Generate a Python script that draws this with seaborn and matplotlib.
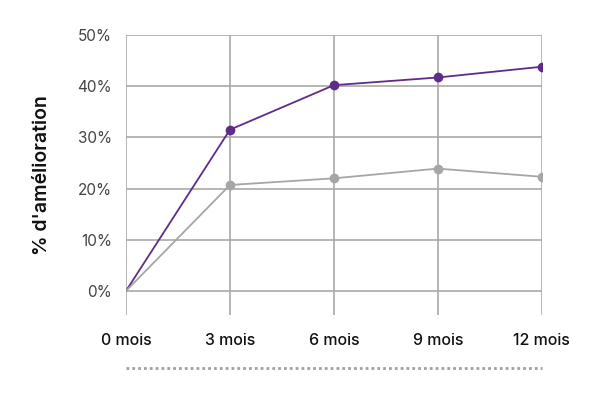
import pandas as pd
import seaborn as sns
import matplotlib.pyplot as plt
from matplotlib.lines import Line2D

# data
periodes = ["0 mois", "3 mois", "6 mois", "9 mois", "12 mois"]
groupe_a = [0, 31.5, 40.2, 41.7, 43.8]
groupe_b = [0, 20.7, 22.0, 23.9, 22.3]

df = pd.DataFrame({
    "periode": periodes * 2,
    "valeur": groupe_a + groupe_b,
    "groupe": ["A"] * len(periodes) + ["B"] * len(periodes),
})

sns.set_style("white")
plt.rcParams["font.family"] = ["Inter", "DejaVu Sans"]

fig = plt.figure(figsize=(6, 4), dpi=100)
ax = fig.add_axes([0.21, 0.2125, 0.693, 0.70])

ax.grid(True, color="#a9a9a9", linewidth=1.2)
ax.set_axisbelow(True)

# no marker on the starting point
sns.lineplot(data=df, x="periode", y="valeur", hue="groupe",
             palette={"A": "#5f2b88", "B": "#a6a6a6"},
             marker="o", markersize=7, markeredgewidth=0, markevery=[1, 2, 3, 4],
             linewidth=1.3, legend=False, ax=ax, sort=False)

ax.set_ylim(-4.7, 50)
ax.set_xlim(0, 4)
ax.set_yticks([0, 10, 20, 30, 40, 50])
ax.set_yticklabels([f"{v}%" for v in [0, 10, 20, 30, 40, 50]])
for s in ax.spines.values():
    s.set_visible(False)
ax.tick_params(axis="y", length=0, pad=10, labelsize=11, labelcolor="#444444")
ax.tick_params(axis="x", length=0, pad=13, labelsize=11.5, labelcolor="#111111")
for lbl in ax.get_xticklabels():
    lbl.set_fontweight("medium")

ax.set_xlabel("")
ax.set_ylabel("% d'amélioration", fontsize=14, fontweight="semibold", labelpad=19, color="#111111")

# dotted rule under the x labels
fig.add_artist(Line2D([126 / 600, 542 / 600], [1 - 368 / 400, 1 - 368 / 400],
                      color="#a0a0a0", linestyle=(0, (1, 1.1)), linewidth=2))

fig.savefig("out.png", dpi=100)
